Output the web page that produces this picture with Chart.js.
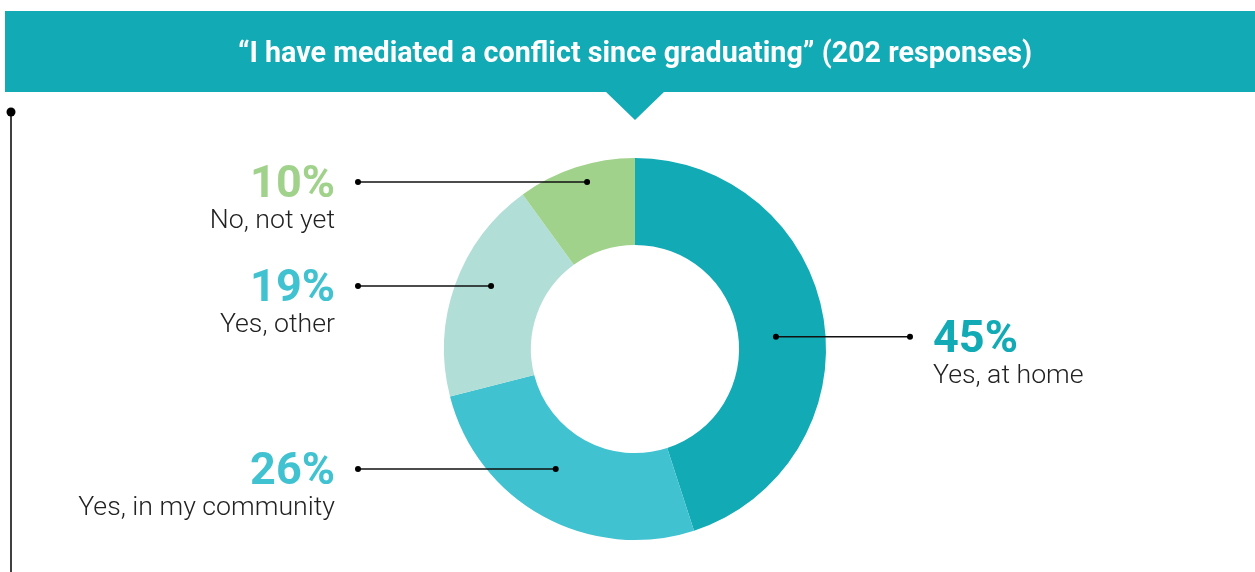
<!DOCTYPE html>
<html>
<head>
<meta charset="utf-8">
<script src="https://cdn.jsdelivr.net/npm/chart.js@4"></script>
<style>
  html, body { margin: 0; padding: 0; background: #fff; }
  #wrap { width: 1255px; height: 572px; position: relative; }
</style>
</head>
<body>
<div id="wrap"><canvas id="mediatedChart"></canvas></div>
<script>
const title = "\u201cI have mediated a conflict since graduating\u201d (202 responses)";
const categories = ["Yes, at home", "Yes, in my community", "Yes, other", "No, not yet"];
const shares = [45, 26, 19, 10];
const sliceColors = ["#11aab5", "#40c2d0", "#b1ded6", "#a1d28b"];
const labelColors = ["#11aab5", "#40c2d0", "#40c2d0", "#a1d28b"];

// where each leader dot sits inside its slice (fraction of angle, fraction of ring width)
const leaderAt = [[0.525, 0.43], [0.55, 0.456], [0.556, 0.61], [0.555, 0.8]];

const teal = "#11aab5";

// banner with pointer + left rule
const banner = {
  id: "banner",
  beforeDraw(chart) {
    const ctx = chart.ctx;
    const w = chart.width;
    const cx = chart.getDatasetMeta(0).data[0].x;
    ctx.save();
    ctx.fillStyle = teal;
    ctx.fillRect(5, 11, w - 5, 81);
    ctx.beginPath();
    ctx.moveTo(cx - 30, 91);
    ctx.lineTo(cx + 30, 91);
    ctx.lineTo(cx, 120);
    ctx.closePath();
    ctx.fill();

    ctx.fillStyle = "#fff";
    ctx.font = "bold 28.7px Roboto";
    ctx.textAlign = "center";
    ctx.textBaseline = "alphabetic";
    ctx.fillText(title, cx, 62);

    ctx.strokeStyle = "#000";
    ctx.lineWidth = 1.5;
    ctx.beginPath();
    ctx.moveTo(11, 112);
    ctx.lineTo(11, chart.height);
    ctx.stroke();
    ctx.fillStyle = "#000";
    ctx.beginPath();
    ctx.arc(11, 112, 4.5, 0, Math.PI * 2);
    ctx.fill();
    ctx.restore();
  }
};

// leader lines and percentage labels
const leaders = {
  id: "leaders",
  afterDatasetsDraw(chart) {
    const ctx = chart.ctx;
    const meta = chart.getDatasetMeta(0);
    ctx.save();
    meta.data.forEach((arc, i) => {
      const p = arc.getProps(["x", "y", "startAngle", "endAngle", "innerRadius", "outerRadius"], true);
      const a = p.startAngle + leaderAt[i][0] * (p.endAngle - p.startAngle);
      const r = p.innerRadius + leaderAt[i][1] * (p.outerRadius - p.innerRadius);
      const dx = p.x + Math.cos(a) * r;
      const dy = p.y + Math.sin(a) * r;
      const right = dx > p.x;
      const ex = right ? p.x + p.outerRadius + 84 : p.x - p.outerRadius - 86;

      ctx.strokeStyle = "#111";
      ctx.lineWidth = 1.5;
      ctx.beginPath();
      ctx.moveTo(dx, dy);
      ctx.lineTo(ex, dy);
      ctx.stroke();
      ctx.fillStyle = "#000";
      [dx, ex].forEach(x => {
        ctx.beginPath();
        ctx.arc(x, dy, 3, 0, Math.PI * 2);
        ctx.fill();
      });

      const tx = right ? ex + 23 : ex - 23;
      ctx.textAlign = right ? "left" : "right";
      ctx.textBaseline = "alphabetic";
      ctx.fillStyle = labelColors[i];
      ctx.font = "bold 45px Roboto";
      ctx.fillText(shares[i] + "%", tx, dy + 15);
      ctx.fillStyle = "#222";
      ctx.font = "300 26.7px Roboto";
      ctx.fillText(categories[i], tx, dy + 46);
    });
    ctx.restore();
  }
};

new Chart(document.getElementById("mediatedChart"), {
  type: "doughnut",
  data: {
    labels: categories,
    datasets: [{
      data: shares,
      backgroundColor: sliceColors,
      borderWidth: 0,
      hoverOffset: 0
    }]
  },
  options: {
    responsive: true,
    maintainAspectRatio: false,
    animation: false,
    cutout: "54.5%",
    layout: { padding: { top: 158, bottom: 32, left: 15, right: 0 } },
    plugins: {
      legend: { display: false },
      tooltip: { enabled: false }
    }
  },
  plugins: [banner, leaders]
});
</script>
</body>
</html>
